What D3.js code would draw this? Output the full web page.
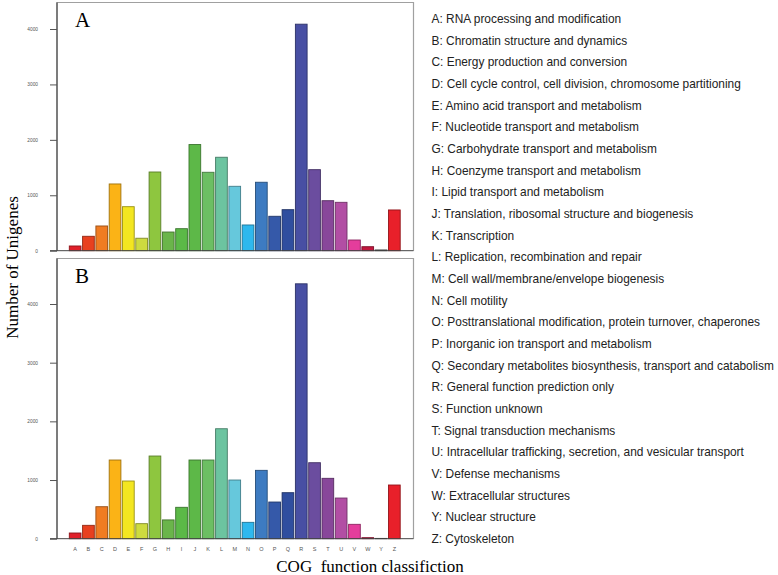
<!DOCTYPE html>
<html><head><meta charset="utf-8">
<script src="https://cdn.jsdelivr.net/npm/d3@7"></script>
<style>body{margin:0;background:#fff}svg{display:block}</style>
</head><body>
<svg id="c" width="778" height="575"></svg>
<script>
const categories = ["A","B","C","D","E","F","G","H","I","J","K","L","M","N","O","P","Q","R","S","T","U","V","W","Y","Z"];
const valuesA = [85,260,446,1204,794,225,1420,337,397,1915,1415,1686,1162,464,1235,621,740,4087,1462,902,873,193,72,13,735];
const valuesB = [97,228,545,1341,983,256,1409,320,535,1341,1341,1874,1000,279,1165,625,784,4344,1295,1029,693,245,17,5,915];
const descriptions = [
"RNA processing and modification","Chromatin structure and dynamics","Energy production and conversion",
"Cell cycle control, cell division, chromosome partitioning","Amino acid transport and metabolism",
"Nucleotide transport and metabolism","Carbohydrate transport and metabolism","Coenzyme transport and metabolism",
"Lipid transport and metabolism","Translation, ribosomal structure and biogenesis","Transcription",
"Replication, recombination and repair","Cell wall/membrane/envelope biogenesis","Cell motility",
"Posttranslational modification, protein turnover, chaperones","Inorganic ion transport and metabolism",
"Secondary metabolites biosynthesis, transport and catabolism","General function prediction only",
"Function unknown","Signal transduction mechanisms","Intracellular trafficking, secretion, and vesicular transport",
"Defense mechanisms","Extracellular structures","Nuclear structure","Cytoskeleton"];
const yTicks = [0,1000,2000,3000,4000];
const palette = ["#e0202a","#e8401f","#f07c22","#fbb316","#f3e620","#cddb3f","#8ec63f","#6ab54a","#5bb947","#5db848",
"#6cbf63","#6cc4a0","#66c8dc","#2eb8ee","#3d7bc1","#3559a9","#2f4e9f","#484fa3","#6b4d9f","#88479a","#b24ea4",
"#e43d9c","#c2173e","#555555","#e8202a"];

const svg = d3.select("#c");
const color = d3.scaleOrdinal().domain(categories).range(palette);
const x = d3.scaleBand().domain(categories).range([68.5, 401]).paddingInner(0.12).paddingOuter(0.06);

function panel(vals, y0, y4000, frameTop, frameBottom, label, showX){
  const y = d3.scaleLinear().domain([0,4000]).range([y0, y4000]);
  const g = svg.append("g");
  g.append("path").attr("d", `M57,${frameBottom}V${frameTop}H413.5V${frameBottom}`)
    .attr("fill","none").attr("stroke","#a0a0a0").attr("stroke-width",1.2);
  g.selectAll("rect.bar").data(categories).join("rect").attr("class","bar")
    .attr("x", d=>x(d)).attr("width", x.bandwidth())
    .attr("y", (d,i)=>y(vals[i])).attr("height",(d,i)=>y(0)-y(vals[i]))
    .attr("fill", d=>color(d)).attr("stroke", d=>d3.color(color(d)).darker(1.3)).attr("stroke-width",0.9);
  const ya = g.append("g").attr("transform","translate(57,0)")
    .call(d3.axisLeft(y).tickValues(yTicks).tickSize(7).tickPadding(12).tickFormat(d3.format("d")));
  ya.select(".domain").attr("stroke","#333").attr("d", `M0,${y0}V${frameTop}`);
  ya.selectAll(".tick line").attr("stroke","#555");
  ya.selectAll(".tick text").attr("font-size","4.8px").attr("fill","#555").attr("font-family","Liberation Sans, Arial, sans-serif");
  g.append("line").attr("x1",50).attr("x2",413.5).attr("y1",y0).attr("y2",y0).attr("stroke","#444").attr("stroke-width",1);
  if(showX){
    const xa = g.append("g").attr("transform",`translate(0,${y0})`)
      .call(d3.axisBottom(x).tickSize(0).tickPadding(8));
    xa.select(".domain").remove();
    xa.selectAll(".tick text").attr("font-size","5.5px").attr("fill","#555").attr("font-family","Liberation Sans, Arial, sans-serif");
  }
  g.append("text").attr("x",75).attr("y",frameTop+24).text(label)
    .attr("font-family","Liberation Serif, Times New Roman, serif").attr("font-size","21px").attr("fill","#000");
}
panel(valuesA, 250.7, 29, 2.5, 250.7, "A", false);
panel(valuesB, 538.7, 304, 258.5, 538.7, "B", true);

svg.append("text").attr("transform","translate(18,267.5) rotate(-90)").attr("text-anchor","middle")
  .attr("font-family","Liberation Serif, Times New Roman, serif").attr("font-size","17px").text("Number of Unigenes");
svg.append("text").attr("x",370).attr("y",572).attr("text-anchor","middle").style("white-space","pre")
  .attr("font-family","Liberation Serif, Times New Roman, serif").attr("font-size","17px").text("COG  function classifiction");

const ly = d3.scalePoint().domain(categories).range([19, 539]);
svg.append("g").selectAll("text").data(categories).join("text")
  .attr("x",431.5).attr("y", d=>ly(d)+4)
  .attr("font-family","Liberation Sans, Arial, sans-serif").attr("font-size","11.9px").attr("fill","#222")
  .text((d,i)=>`${d}: ${descriptions[i]}`);
</script>
</body></html>
